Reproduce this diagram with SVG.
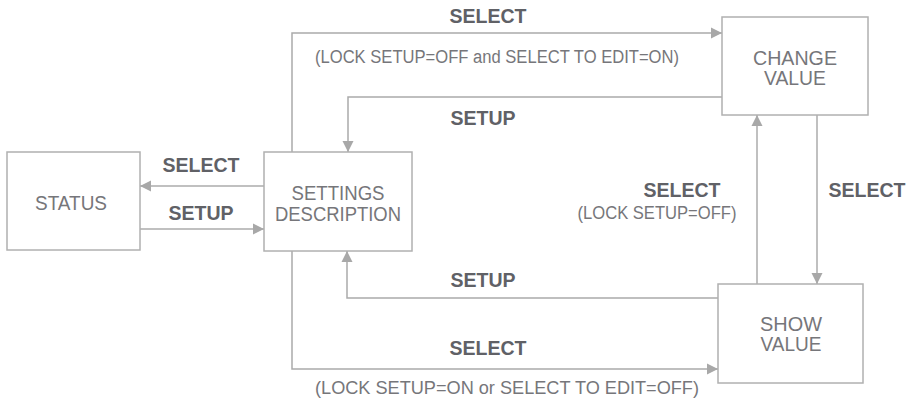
<svg xmlns="http://www.w3.org/2000/svg" width="914" height="401" viewBox="0 0 914 401">
<style>
.box{fill:#fff;stroke:#b0b0b0;stroke-width:1.5}
.node{font-family:"Liberation Sans",Arial,sans-serif;font-size:20px;fill:#76767a;text-anchor:middle}
.lbl{font-family:"Liberation Sans",Arial,sans-serif;font-size:19.5px;font-weight:bold;fill:#606166;text-anchor:middle}
.cond{font-family:"Liberation Sans",Arial,sans-serif;font-size:18px;fill:#76767a;text-anchor:middle}
.wire{fill:none;stroke:#ababab;stroke-width:1.5;marker-end:url(#arr)}
</style>
<defs>
<marker id="arr" markerUnits="userSpaceOnUse" markerWidth="12" markerHeight="12" viewBox="0 0 12 12" refX="11" refY="6" orient="auto">
<path d="M0,0.5 L11,6 L0,11.5 Z" fill="#a8a8a8"/>
</marker>
</defs>
<rect width="914" height="401" fill="#fff"/>
<g id="connectors">
<polyline class="wire" points="292,152 292,33 722,33"/>
<polyline class="wire" points="722,97 348,97 348,152"/>
<polyline class="wire" points="264,186 140,186"/>
<polyline class="wire" points="140,229 264,229"/>
<polyline class="wire" points="718,298 347,298 347,251"/>
<polyline class="wire" points="292,251 292,369 718,369"/>
<polyline class="wire" points="757,284 757,115"/>
<polyline class="wire" points="817,115 817,284"/>
</g>
<g id="labels">
<text class="lbl" x="488" y="23">SELECT</text>
<text class="cond" x="497" y="63" textLength="364" lengthAdjust="spacingAndGlyphs">(LOCK SETUP=OFF and SELECT TO EDIT=ON)</text>
<text class="lbl" x="483" y="125">SETUP</text>
<text class="lbl" x="201" y="172">SELECT</text>
<text class="lbl" x="201" y="220">SETUP</text>
<text class="lbl" x="682" y="197">SELECT</text>
<text class="cond" x="657" y="219" textLength="159" lengthAdjust="spacingAndGlyphs">(LOCK SETUP=OFF)</text>
<text class="lbl" x="867" y="197">SELECT</text>
<text class="lbl" x="483" y="287">SETUP</text>
<text class="lbl" x="488" y="355">SELECT</text>
<text class="cond" x="507" y="394" textLength="384" lengthAdjust="spacingAndGlyphs">(LOCK SETUP=ON or SELECT TO EDIT=OFF)</text>
</g>
<g id="status">
<rect class="box" x="7" y="152" width="133" height="98"/>
<text class="node" x="71" y="210" textLength="72" lengthAdjust="spacingAndGlyphs">STATUS</text>
</g>
<g id="settings">
<rect class="box" x="264" y="152" width="148" height="99"/>
<text class="node" x="338" y="200" textLength="93" lengthAdjust="spacingAndGlyphs">SETTINGS</text>
<text class="node" x="338" y="221" textLength="126" lengthAdjust="spacingAndGlyphs">DESCRIPTION</text>
</g>
<g id="change">
<rect class="box" x="722" y="17" width="146" height="98"/>
<text class="node" x="795" y="65" textLength="84" lengthAdjust="spacingAndGlyphs">CHANGE</text>
<text class="node" x="795" y="85" textLength="62" lengthAdjust="spacingAndGlyphs">VALUE</text>
</g>
<g id="show">
<rect class="box" x="718" y="284" width="145" height="99"/>
<text class="node" x="791" y="331" textLength="62" lengthAdjust="spacingAndGlyphs">SHOW</text>
<text class="node" x="791" y="351" textLength="61" lengthAdjust="spacingAndGlyphs">VALUE</text>
</g>
</svg>
